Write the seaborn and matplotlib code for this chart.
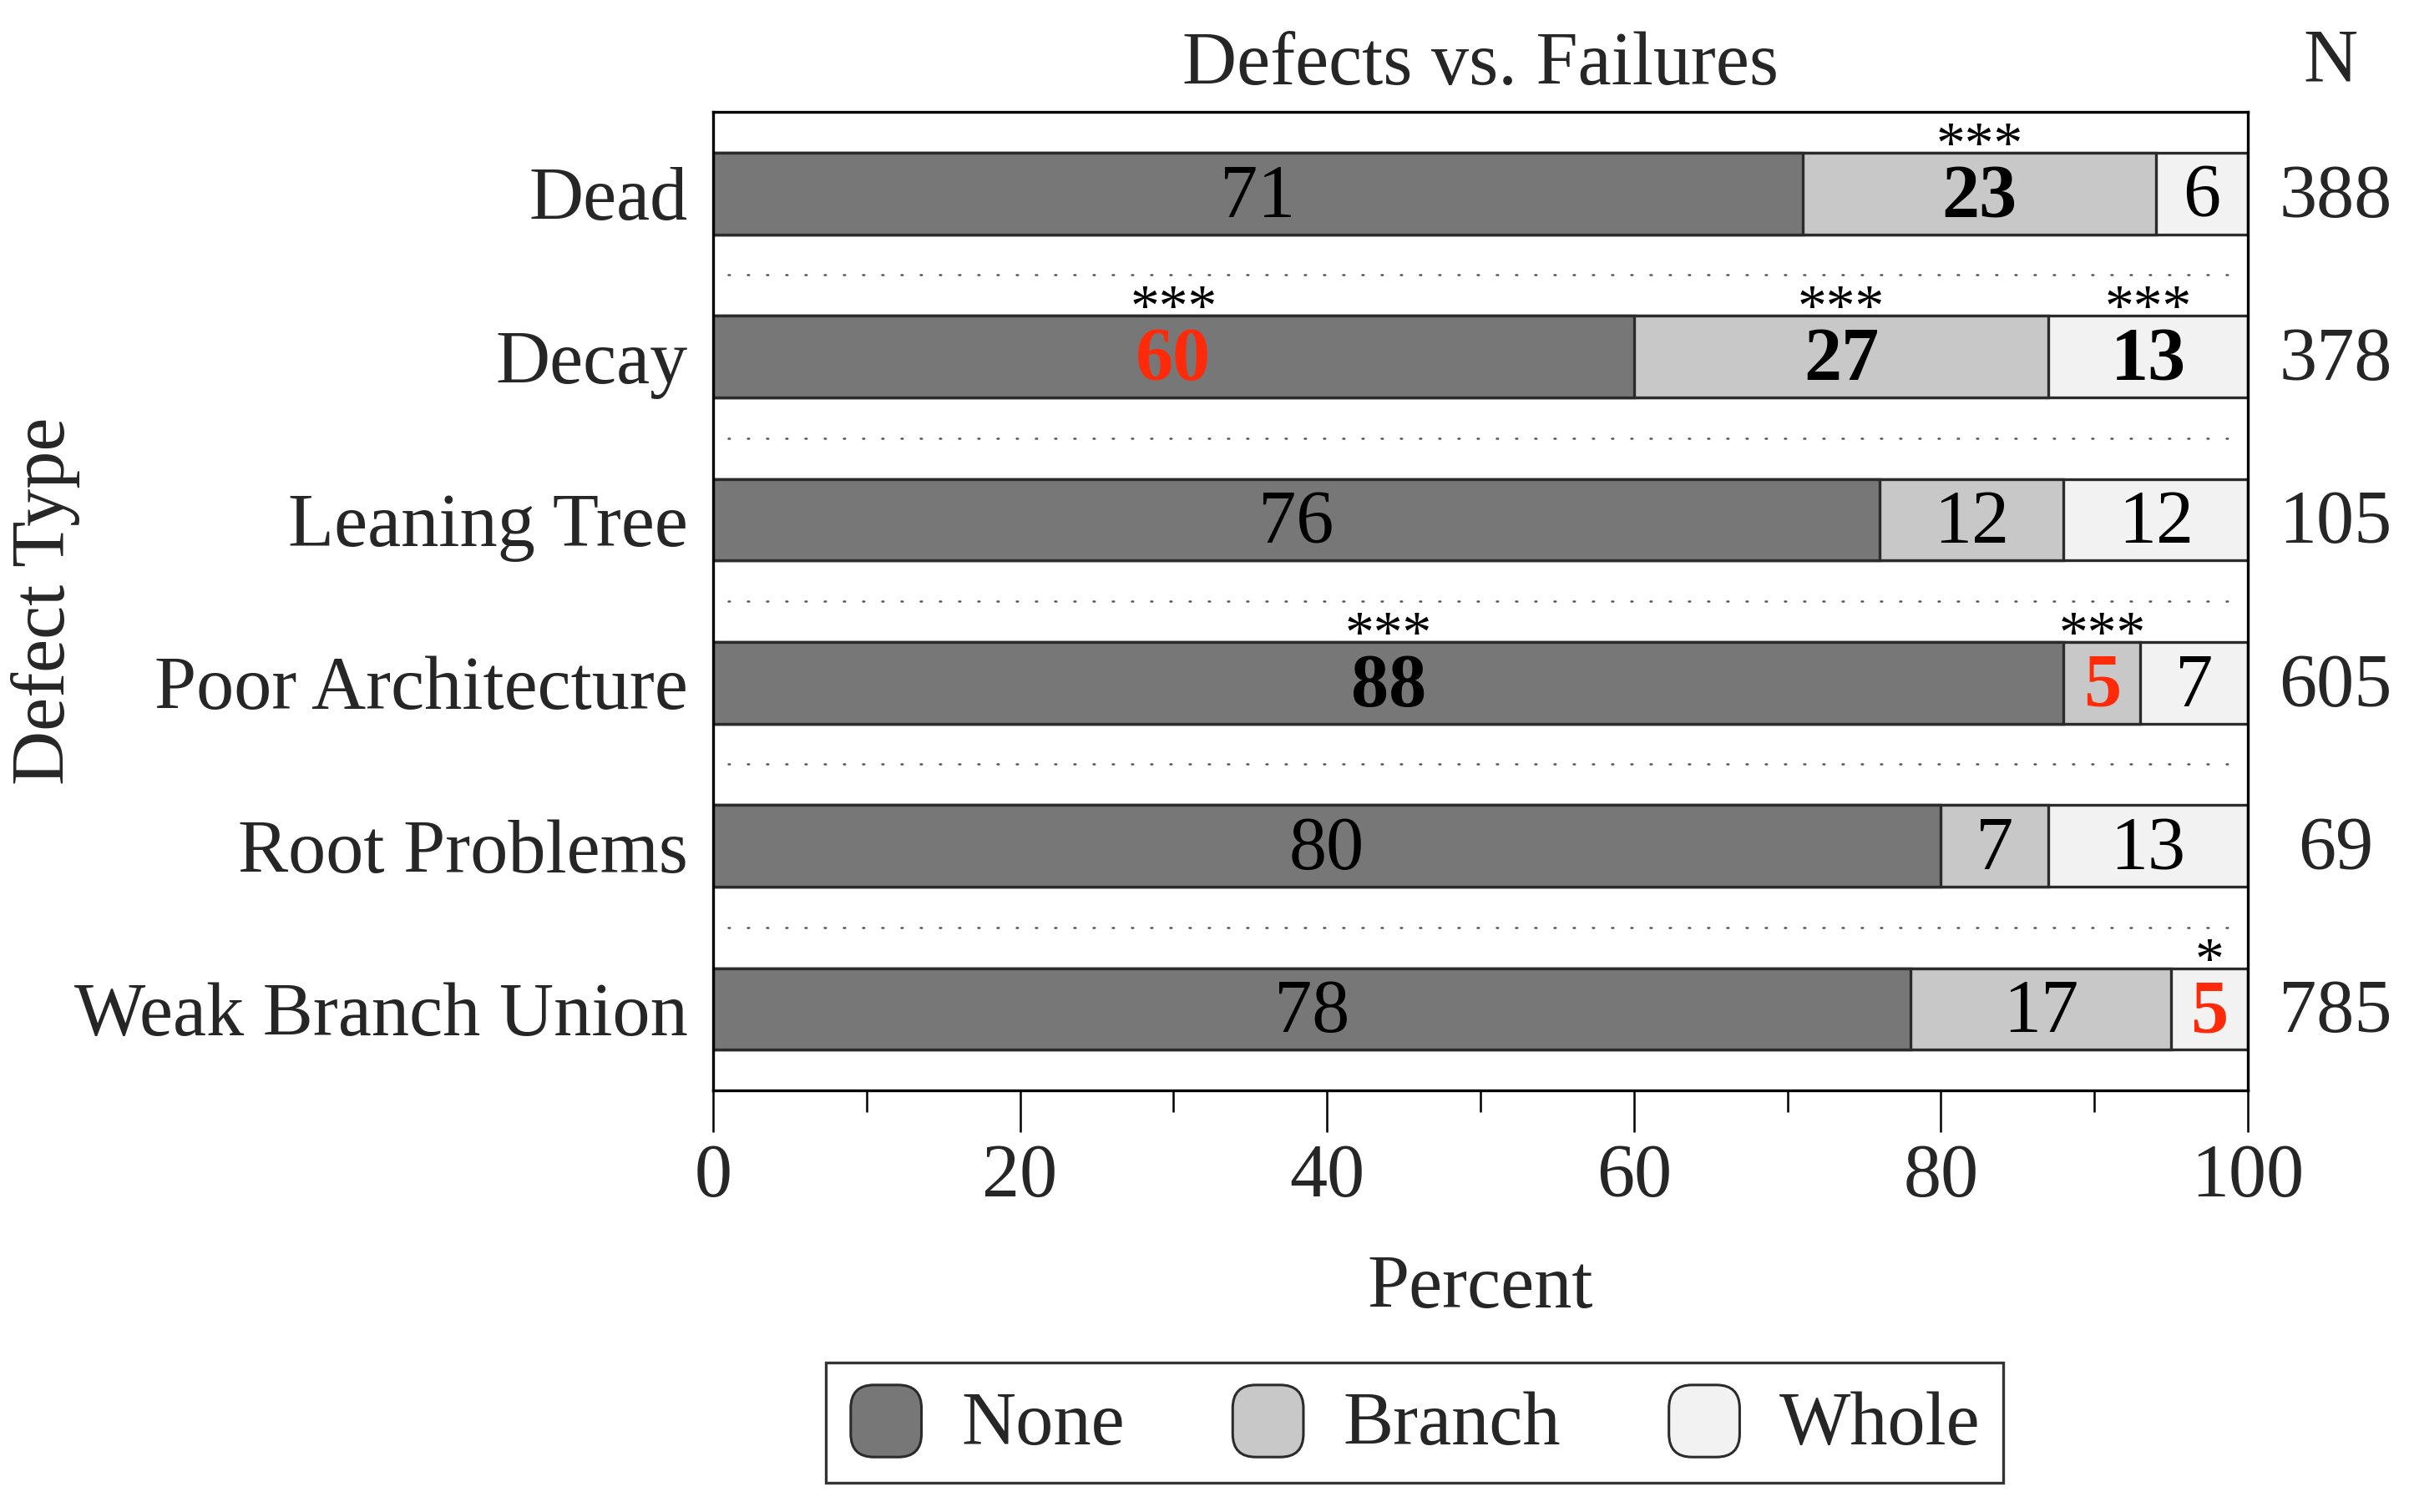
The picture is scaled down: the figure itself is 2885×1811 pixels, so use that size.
import numpy as np
import pandas as pd
import matplotlib
matplotlib.use("Agg")
import matplotlib.pyplot as plt
import seaborn as sns
from matplotlib.patches import FancyBboxPatch, Patch
from matplotlib.legend_handler import HandlerPatch
import matplotlib.transforms as mtransforms

# ---------------- data ----------------
categories = ["Dead", "Decay", "Leaning Tree", "Poor Architecture",
              "Root Problems", "Weak Branch Union"]
none_pct = [71, 60, 76, 88, 80, 78]
branch_pct = [23, 27, 12, 5, 7, 17]
whole_pct = [6, 13, 12, 7, 13, 5]
n_values = [388, 378, 105, 605, 69, 785]
# significance stars per segment
stars_none = ["", "***", "", "***", "", ""]
stars_branch = ["***", "***", "", "***", "", ""]
stars_whole = ["", "***", "", "", "", "*"]
# label styles: "n" normal, "b" bold, "r" bold red
style_none = ["n", "r", "n", "b", "n", "n"]
style_branch = ["b", "b", "n", "r", "n", "n"]
style_whole = ["n", "b", "n", "n", "n", "r"]
series_names = ["None", "Branch", "Whole"]

# ---------------- style ----------------
sns.set_theme(style="white")
plt.rcParams["font.family"] = ["Liberation Serif", "DejaVu Serif"]
plt.rcParams["mathtext.fontset"] = "stix"

FS = 65
colors = {"None": "#777777", "Branch": "#c8c8c8", "Whole": "#f2f2f2"}
EDGE = "#2b2b2b"
RED = "#ff2a0a"

df = pd.DataFrame({"Defect": categories, "None": none_pct,
                   "Branch": branch_pct, "Whole": whole_pct, "N": n_values})
df["cum_none"] = df["None"]
df["cum_branch"] = df["None"] + df["Branch"]
df["cum_whole"] = df["None"] + df["Branch"] + df["Whole"]

fig = plt.figure(figsize=(28.85, 18.11), dpi=100)
ax = fig.add_axes([854 / 2885, 1 - 1306 / 1811, (2692 - 854) / 2885, (1306 - 134) / 1811])

# stacked bars via layered cumulative totals
for col, name in [("cum_whole", "Whole"), ("cum_branch", "Branch"), ("cum_none", "None")]:
    sns.barplot(data=df, x=col, y="Defect", order=categories, orient="h",
                color=colors[name], edgecolor=EDGE, linewidth=2.4,
                width=0.5, ax=ax, saturation=1)

ax.set_xlim(0, 100)
ax.set_ylim(5.5, -0.5)

# dotted separators
for i in range(len(categories) - 1):
    ax.plot([1.0, 99.0], [i + 0.5, i + 0.5], linestyle=(0, (0.7, 8.5)),
            color="#555555", linewidth=1.8, dash_capstyle="round", zorder=0.5)

# segment labels
def draw_labels(starts, vals, styles, stars):
    for i, (s, v, st, sg) in enumerate(zip(starts, vals, styles, stars)):
        cx = s + v / 2
        kw = dict(ha="center", va="center", fontsize=FS, color="black")
        if st == "b":
            kw["fontweight"] = "bold"
        elif st == "r":
            kw["fontweight"] = "bold"
            kw["color"] = RED
        ax.text(cx, i + 0.03, str(v), **kw)
        if sg:
            ax.annotate(sg, xy=(cx, i - 0.25), xytext=(0, -8),
                        textcoords="offset points", ha="center",
                        va="baseline", fontsize=50, color="black")

zeros = [0] * len(categories)
draw_labels(zeros, none_pct, style_none, stars_none)
draw_labels(none_pct, branch_pct, style_branch, stars_branch)
draw_labels(list(df["cum_branch"]), whole_pct, style_whole, stars_whole)

# N column
trans = mtransforms.blended_transform_factory(ax.transAxes, ax.transData)
for i, n in enumerate(n_values):
    ax.text(1.057, i + 0.03, str(n), transform=trans, ha="center",
            va="center", fontsize=FS)
ax.text(1.054, 1.05, "N", transform=ax.transAxes, ha="center",
        va="center", fontsize=FS)
ax.text(0.5, 1.047, "Defects vs. Failures", transform=ax.transAxes,
        ha="center", va="center", fontsize=FS)

# axes styling
for sp in ax.spines.values():
    sp.set_visible(True)
    sp.set_color("black")
    sp.set_linewidth(2.4)

ax.set_xticks([0, 20, 40, 60, 80, 100])
ax.set_xticks([10, 30, 50, 70, 90], minor=True)
ax.tick_params(axis="x", which="major", direction="out", length=36, width=1.8,
               labelsize=FS, pad=10, color="black", bottom=True)
ax.tick_params(axis="x", which="minor", direction="out", length=19, width=1.8,
               color="black", bottom=True)
ax.tick_params(axis="y", length=0, labelsize=FS, pad=22)
ax.set_xlabel("Percent", fontsize=FS, labelpad=36)
ax.set_ylabel("")
fig.text(55 / 2885, 1 - 720 / 1811, "Defect Type", rotation=90,
         ha="center", va="center", fontsize=FS)


class RoundHandler(HandlerPatch):
    def create_artists(self, legend, orig_handle, xdescent, ydescent,
                       width, height, fontsize, trans):
        p = FancyBboxPatch((-xdescent + 2, -ydescent - 4), width - 4, height + 4,
                           boxstyle="round,pad=0,rounding_size=20",
                           facecolor=orig_handle.get_facecolor(),
                           edgecolor=EDGE, linewidth=2.2, transform=trans)
        return [p]


handles = [Patch(facecolor=colors[n], edgecolor=EDGE) for n in series_names]
leg = fig.legend(handles, series_names, loc="center",
                 bbox_to_anchor=(1694 / 2885, 1 - 1704 / 1811), ncol=3,
                 fontsize=FS, frameon=True, fancybox=False,
                 handlelength=1.0, handleheight=1.0, handletextpad=0.5,
                 columnspacing=1.4, borderpad=0.3,
                 handler_map={Patch: RoundHandler()})
leg.get_frame().set_edgecolor("black")
leg.get_frame().set_linewidth(2.4)

fig.savefig("out.png", dpi=100, facecolor="white")
